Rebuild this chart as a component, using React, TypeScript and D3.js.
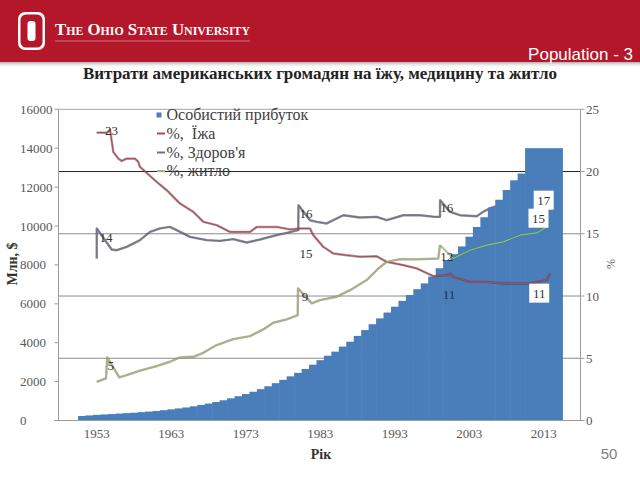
import React from "react";
import * as d3 from "d3";

// ---------- DATA ----------
const firstIncomeYear = 1951;
// Особистий прибуток (personal income), one value per year 1951..2015
const income = [
  230, 260, 290, 310, 330, 355, 380, 400, 430, 460,
  490, 530, 575, 620, 670, 730, 800, 870, 950, 1040,
  1140, 1250, 1360, 1480, 1610, 1760, 1920, 2090, 2270, 2450,
  2650, 2870, 3100, 3330, 3540, 3800, 4050, 4350, 4650, 4950,
  5250, 5550, 5850, 6150, 6450, 6750, 7050, 7400, 7830, 8250,
  8550, 8950, 9450, 9950, 10450, 10950, 11350, 11850, 12350, 12700,
  14000, 14000, 14000, 14000, 14000,
];

// %, Їжа  [year, percent]
const foodShare: [number, number][] = [
  [1953.0, 23.13], [1954.34, 23.13], [1954.79, 23.37], [1955.23, 21.57], [1955.9, 21.04],
  [1956.36, 20.85], [1957.03, 21.04], [1958.14, 21.04], [1958.58, 20.77], [1958.81, 20.37],
  [1961.05, 19.17], [1962.4, 18.5], [1964.18, 17.43], [1965.97, 16.76], [1967.31, 15.96],
  [1969.11, 15.69], [1970.89, 15.15], [1973.58, 15.15], [1974.48, 15.55], [1977.16, 15.55],
  [1978.95, 15.35], [1980.29, 15.43], [1981.63, 15.43], [1982.07, 14.89], [1983.42, 13.95],
  [1984.76, 13.42], [1986.56, 13.28], [1988.34, 13.15], [1990.58, 13.2], [1991.93, 12.74],
  [1994.15, 12.48], [1995.95, 12.22], [1998.18, 11.6], [1999.98, 11.68], [2000.42, 11.81],
  [2000.87, 11.54], [2003.11, 11.14], [2005.35, 11.14], [2007.58, 11.01], [2011.16, 11.01],
  [2013.4, 11.28], [2013.85, 11.81],
];

// %, Здоров'я
const healthShare: [number, number][] = [
  [1953.0, 13.02], [1953.01, 15.43], [1955.01, 13.74], [1955.68, 13.68], [1957.03, 13.95],
  [1958.81, 14.49], [1960.15, 15.15], [1961.5, 15.43], [1962.84, 15.55], [1963.74, 15.29],
  [1965.52, 14.75], [1967.77, 14.49], [1969.55, 14.43], [1971.34, 14.57], [1973.13, 14.3],
  [1974.92, 14.54], [1977.16, 14.89], [1978.5, 15.07], [1980.06, 15.29], [1980.09, 17.3],
  [1981.63, 16.09], [1982.53, 15.96], [1983.87, 15.83], [1986.1, 16.49], [1988.34, 16.31],
  [1990.58, 16.36], [1991.93, 16.09], [1994.15, 16.49], [1996.4, 16.49], [1998.41, 16.36],
  [1999.08, 16.36], [1999.1, 17.7], [2000.42, 16.76], [2001.77, 16.49], [2004.01, 16.41],
  [2004.86, 16.76], [2005.8, 17.05], [2007.1, 17.3], [2008.88, 17.16], [2010.5, 16.36],
  [2012.1, 17.3], [2013.7, 17.7],
];

// %, житло
const housingShare: [number, number][] = [
  [1953.0, 3.11], [1953.89, 3.31], [1954.25, 3.39], [1954.42, 5.07], [1955.23, 4.27],
  [1956.03, 3.47], [1957.03, 3.65], [1958.81, 4.0], [1961.05, 4.37], [1962.84, 4.72],
  [1964.18, 5.07], [1965.97, 5.12], [1967.31, 5.44], [1969.11, 6.06], [1971.34, 6.54],
  [1973.58, 6.78], [1975.36, 7.32], [1976.7, 7.85], [1978.5, 8.12], [1979.98, 8.47],
  [1980.02, 10.61], [1981.86, 9.41], [1982.97, 9.67], [1985.21, 9.94], [1987.0, 10.47],
  [1989.24, 11.28], [1990.8, 12.21], [1991.93, 12.74], [1993.71, 12.96], [1995.95, 12.94],
  [1998.85, 13.02], [1999.08, 14.09], [2000.87, 13.02], [2003.11, 13.68], [2005.35, 14.09],
  [2007.58, 14.35], [2009.82, 14.89], [2012.06, 15.07], [2013.4, 15.55], [2013.62, 15.95],
];

// data labels: [text, year, percent, boxed, navy]
const dataLabels: [string, number, number, boolean, boolean][] = [
  ["23", 1954.98, 23.3, false, false],
  ["14", 1954.25, 14.72, false, false],
  ["5", 1954.9, 4.45, false, false],
  ["16", 1981.1, 16.65, false, false],
  ["15", 1981.1, 13.44, false, false],
  ["9", 1980.96, 9.99, false, false],
  ["16", 2000.0, 17.13, false, false],
  ["12", 2000.0, 13.2, false, false],
  ["11", 2000.3, 10.15, false, true],
  ["17", 2013.0, 17.7, true, false],
  ["15", 2012.3, 16.25, true, false],
  ["11", 2012.4, 10.23, true, false],
];

const xTicks = [1953, 1963, 1973, 1983, 1993, 2003, 2013];
const leftTicks = [0, 2000, 4000, 6000, 8000, 10000, 12000, 14000, 16000];
const rightTicks = [0, 5, 10, 15, 20, 25];

const legendItems = ["Особистий прибуток", "%,  Їжа", "%, Здоров'я", "%, житло"];
const title = "Витрати американських громадян на їжу, медицину та житло";

// ---------- STYLE ----------
const SERIF = "'Liberation Serif', 'Times New Roman', serif";
const SANS = "'Liberation Sans', Arial, sans-serif";
const BAR = "#4a7ebb";
const FOOD = "#b04a55";
const HEALTH = "#72728a";
const HOUSING = "#aab27c";
const HOUSING_LATE = "#86c56c";

export default function App() {
  const L = 58.5, R = 580.5, T = 109.3, B = 420.5;
  const x = d3.scaleLinear().domain([1953, 2013]).range([96.7, 543.7]);
  const yL = d3.scaleLinear().domain([0, 16000]).range([B, T]);
  const yR = d3.scaleLinear().domain([0, 25]).range([B, T]);
  const line = d3.line<[number, number]>().x((d) => x(d[0])).y((d) => yR(d[1]));

  const drawLine = (data: [number, number][], color: string, shadow: string, key: string, so = 0.5) => (
    <g key={key}>
      <path d={line(data) || ""} fill="none" stroke={shadow} strokeOpacity={so} strokeWidth={2.4} strokeLinejoin="round" />
      <path d={line(data) || ""} fill="none" stroke={color} strokeWidth={1.1} strokeLinejoin="round" />
    </g>
  );

  const splitIdx = housingShare.findIndex((d) => d[0] >= 1999.08);
  const housingEarly = housingShare.slice(0, splitIdx + 1);
  const housingLate = housingShare.slice(splitIdx);

  const legendColors = [BAR, FOOD, HEALTH, HOUSING];
  const legendY = [115, 133.5, 152.5, 171];

  return (
    <svg width={640} height={480} style={{ position: "absolute", left: 0, top: 0, background: "#fff" }}>
      <defs>
        <linearGradient id="shadow" x1="0" y1="0" x2="0" y2="1">
          <stop offset="0" stopColor="#7a7a7a" stopOpacity={0.6} />
          <stop offset="1" stopColor="#ffffff" stopOpacity={0} />
        </linearGradient>
      </defs>
      {/* header */}
      <rect x={0} y={0} width={640} height={62} fill="#b5172a" />
      <rect x={0} y={62} width={640} height={6} fill="url(#shadow)" />
      <rect x={18} y={12} width={27} height={38} rx={7} fill="#fff" />
      <rect x={20.5} y={14.5} width={22} height={33} rx={5.5} fill="#b5172a" />
      <rect x={27.5} y={21} width={8} height={20} rx={3} fill="#fff" />
      <text x={55} y={35} fill="#fff" fontFamily={SERIF} fontSize={17} fontWeight="bold"
        style={{ fontVariant: "small-caps" }} textLength={195} lengthAdjust="spacingAndGlyphs">
        The Ohio State University
      </text>
      <line x1={55} x2={250} y1={41} y2={41} stroke="#fff" strokeOpacity={0.5} strokeWidth={0.8} />
      <text x={633} y={60} textAnchor="end" fill="#fff" fontFamily={SANS} fontSize={17}>Population - 3</text>

      <text x={320} y={79} textAnchor="middle" fill="#222" fontFamily={SERIF} fontSize={17} fontWeight="bold">{title}</text>

      {/* gridlines */}
      {rightTicks.filter((t) => t > 0).map((t) => (
        <line key={t} x1={L} x2={R} y1={yR(t)} y2={yR(t)}
          stroke={t === 20 ? "#222" : t === 25 ? "#a6a6a6" : "#8c8c8c"} strokeWidth={1} />
      ))}

      {/* health line (partly hidden behind bars) */}
      {drawLine(healthShare, HEALTH, "#303040", "health", 0.55)}

      {/* bars */}
      {income.map((v, i) => {
        const yr = firstIncomeYear + i;
        const x0 = x(yr - 0.5), x1 = x(yr + 0.5);
        return <rect key={yr} x={x0} y={yL(v)} width={x1 - x0 + 0.6} height={B - yL(v)} fill={BAR} />;
      })}

      {drawLine(foodShare, FOOD, "#4a2a2a", "food", 0.45)}
      {drawLine(housingEarly, HOUSING, "#5f5f45", "housingE", 0.5)}
      {drawLine(housingLate, HOUSING_LATE, "#4a6a3a", "housingL", 0.25)}

      {/* axes */}
      <line x1={L} x2={L} y1={T} y2={B} stroke="#9a9a9a" />
      <line x1={R} x2={R} y1={T} y2={B} stroke="#9a9a9a" />
      <line x1={L - 4} x2={R} y1={B} y2={B} stroke="#9a9a9a" />
      {leftTicks.map((t) => (
        <g key={t}>
          <line x1={L - 4} x2={L} y1={yL(t)} y2={yL(t)} stroke="#9a9a9a" />
          <text x={20} y={yL(t) + 4.5} fill="#595959" fontFamily={SERIF} fontSize={13}>{t}</text>
        </g>
      ))}
      {rightTicks.map((t) => (
        <g key={t}>
          <line x1={R} x2={R + 4} y1={yR(t)} y2={yR(t)} stroke="#9a9a9a" />
          <text x={586} y={yR(t) + 4.5} fill="#595959" fontFamily={SERIF} fontSize={13}>{t}</text>
        </g>
      ))}
      {xTicks.map((t) => (
        <text key={t} x={x(t)} y={438} textAnchor="middle" fill="#595959" fontFamily={SERIF} fontSize={13}>{t}</text>
      ))}
      <text x={321} y={459} textAnchor="middle" fill="#333" fontFamily={SERIF} fontSize={14} fontWeight="bold">Рік</text>
      <text transform="translate(17,264) rotate(-90)" textAnchor="middle" fill="#333" fontFamily={SERIF} fontSize={14} fontWeight="bold">Млн, $</text>
      <text transform="translate(615,264) rotate(-90)" textAnchor="middle" fill="#595959" fontFamily={SERIF} fontSize={12}>%</text>
      <text x={609} y={459} textAnchor="middle" fill="#7f7f7f" fontFamily={SANS} fontSize={15}>50</text>

      {/* legend */}
      {legendItems.map((s, i) => (
        <g key={s}>
          {i === 0 ? (
            <rect x={156.5} y={legendY[i] - 2.5} width={5} height={5} fill={legendColors[i]} />
          ) : (
            <line x1={157} x2={165} y1={legendY[i]} y2={legendY[i]} stroke={legendColors[i]} strokeWidth={2} />
          )}
          <text x={166.5} y={legendY[i] + 5} fill="#404040" fontFamily={SERIF} fontSize={16} style={{ whiteSpace: "pre" }}>{s}</text>
        </g>
      ))}

      {/* data labels */}
      {dataLabels.map(([s, yr, p, boxed, navy], i) => (
        <g key={i}>
          {boxed && <rect x={x(yr) - 10} y={yR(p) - 9.5} width={20} height={19} fill="#fff" />}
          <text x={x(yr)} y={yR(p)} dominantBaseline="central" textAnchor="middle"
            fill={navy ? "#1f2f5a" : "#333"} fontFamily={SERIF} fontSize={13}>{s}</text>
        </g>
      ))}
    </svg>
  );
}
